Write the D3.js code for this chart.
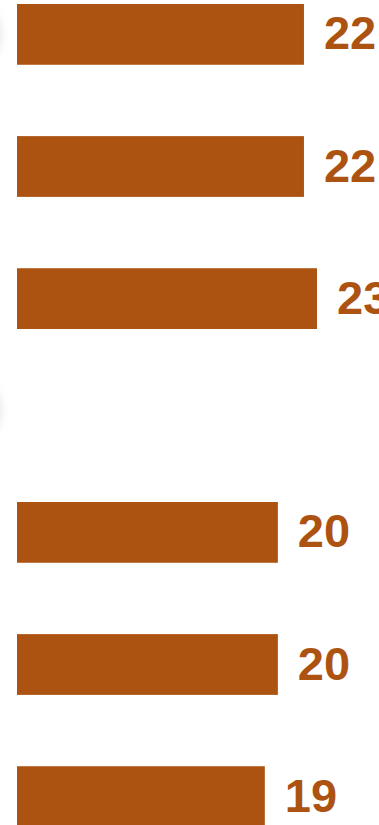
<!DOCTYPE html>
<html lang="en">
<head>
	<meta charset="UTF-8">
	<title>bars</title>
	<style>
		html, body { margin: 0; padding: 0; background: #fff; overflow: hidden; }
	</style>
</head>
<body>
	<script src="https://d3js.org/d3.v7.min.js"></script>
	<script type="text/javascript">
		// data
		var groups = ["A", "B"];
		var categories = ["a1", "a2", "a3", "b1", "b2", "b3"];
		var categoryGroup = ["A", "A", "A", "B", "B", "B"];
		var values = [22, 22, 23, 20, 20, 19];

		var width = 379, height = 825;
		var barColor = "#ad5312";

		var svg = d3.select("body").append("svg").attr("width", width).attr("height", height);

		// soft shadow for the round icons at left edge
		var defs = svg.append("defs");
		var f = defs.append("filter").attr("id", "shadow").attr("x", "-50%").attr("y", "-50%").attr("width", "200%").attr("height", "200%");
		f.append("feDropShadow").attr("dx", 0).attr("dy", 0).attr("stdDeviation", 5)
			.attr("flood-color", "#000").attr("flood-opacity", 0.13);

		// scales
		var x = d3.scaleLinear().domain([0, 23]).range([17, 317]);
		var groupY = d3.scaleOrdinal().domain(groups).range([4, 502]);
		var rowY = d3.scaleBand().domain([0, 1, 2]).range([0, 325]).paddingInner(0.54).paddingOuter(0).align(0);

		var rows = values.map(function(v, i){
			var g = categoryGroup[i];
			var idx = categoryGroup.slice(0, i).filter(function(c){ return c === g; }).length;
			return { name: categories[i], group: g, value: v, y: groupY(g) + rowY(idx) };
		});

		// icons (mostly off screen)
		var iconYs = [rows[0].y + rowY.bandwidth() / 2, (rows[2].y + rowY.bandwidth() + rows[3].y) / 2 - 5];
		svg.selectAll("circle.icon").data(iconYs).enter().append("circle")
			.attr("class", "icon")
			.attr("cx", -34).attr("cy", function(d){ return d; })
			.attr("r", 34)
			.attr("fill", "#fff")
			.attr("filter", "url(#shadow)");

		svg.selectAll("rect.bar").data(rows).enter().append("rect")
			.attr("class", "bar")
			.attr("x", x(0))
			.attr("y", function(d){ return d.y; })
			.attr("width", function(d){ return x(d.value) - x(0); })
			.attr("height", rowY.bandwidth())
			.attr("fill", barColor);

		svg.selectAll("text.label").data(rows).enter().append("text")
			.attr("class", "label")
			.attr("x", function(d){ return x(d.value) + 20; })
			.attr("y", function(d){ return d.y + rowY.bandwidth() / 2 + 15; })
			.style("font-family", "'Liberation Sans', Arial, sans-serif")
			.style("font-weight", "bold")
			.style("font-size", "47px")
			.style("fill", barColor)
			.text(function(d){ return d.value; });
	</script>
</body>
</html>
